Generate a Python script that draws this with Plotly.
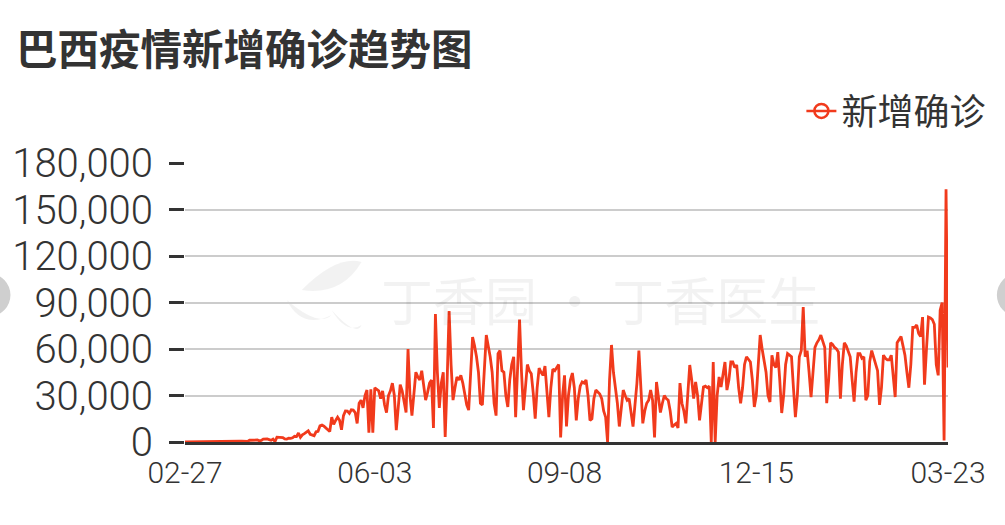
import pandas as pd
import plotly.graph_objects as go

# ---------------- data ----------------
start_date = "2020-02-27"
end_date = "2021-03-23"
dates = pd.date_range(start_date, end_date, freq="D")

new_cases = [
    0, 1, 0, 0, 0, 0, 1, 5, 5, 6,
    6, 5, 9, 18, 25, 21, 23, 79, 34, 57,
    137, 193, 283, 224, 418, 345, 310, 232, 482, 502,
    487, 352, 323, 1138, 1119, 1208, 1012, 1304, 770, 1031,
    1873, 2136, 1922, 1546, 1089, 1900, 300, 3100, 3000, 3300,
    2900, 2000, 1900, 2400, 2300, 2700, 3700, 3500, 5800, 3000,
    4600, 5400, 6300, 7200, 5000, 4600, 4100, 6600, 6900, 10500,
    11000, 10200, 9200, 7700, 6800, 16000, 11400, 13900, 16000, 14000,
    7900, 17000, 20000, 19900, 18500, 20800, 20600, 19000, 12000, 25000,
    27000, 22000, 30000, 33500, 6000, 34000, 6000, 35000, 34000, 33000,
    28000, 33000, 24000, 19000, 30000, 33000, 38000, 30000, 7700, 22000,
    37000, 33000, 25000, 19000, 60000, 30000, 17000, 32000, 45000, 42000,
    40000, 46000, 38000, 27000, 32000, 38000, 40000, 9000, 82600, 45000,
    22000, 38000, 45000, 3200, 40000, 84500, 50000, 27000, 35000, 42000,
    40000, 43000, 38000, 30000, 24000, 20600, 45000, 67700, 62000, 55000,
    45000, 25000, 24000, 45000, 69000, 62000, 55000, 45000, 25000, 17000,
    57000, 59000, 46000, 45000, 30000, 22600, 40000, 50000, 55000, 16000,
    50000, 79000, 45000, 20600, 35000, 50000, 46000, 44000, 31600, 15000,
    35000, 47700, 45000, 43000, 49000, 30000, 16000, 35000, 47000, 46000,
    47700, 50000, 3000, 30000, 43000, 10000, 30000, 40000, 44500, 35000,
    14000, 28000, 36000, 38700, 38000, 40000, 30000, 14000, 15000, 28000,
    33500, 32000, 31000, 28000, 20000, 16000, 0, 40000, 62600, 45000,
    35500, 25000, 10000, 20000, 33500, 30000, 27000, 28000, 18000, 10000,
    24000, 38000, 59000, 30000, 12000, 20000, 25000, 27000, 33500, 27000,
    3000, 38700, 30000, 19000, 25000, 30000, 28000, 27000, 20000, 9700,
    11000, 12000, 9000, 38000, 25000, 20000, 12000, 30000, 49700, 40000,
    28000, 38700, 30000, 14000, 25000, 35500, 36000, 35000, 36000, 0,
    51600, 0, 30000, 42000, 35500, 45000, 51600, 33500, 40000, 51600,
    51600, 48000, 49700, 35000, 25000, 35000, 50000, 55000, 53000, 51600,
    40000, 22600, 30000, 50000, 69000, 60000, 53000, 45000, 30000, 25800,
    56000, 50000, 48000, 58000, 40000, 18700, 30000, 50000, 57000, 56000,
    55000, 35000, 16000, 30000, 55000, 59000, 87000, 55000, 59000, 45000,
    29000, 45000, 61000, 64000, 66000, 69000, 65000, 61000, 25000, 40000,
    64000, 63000, 61000, 60000, 58000, 28000, 50000, 64000, 62000, 58000,
    55000, 40000, 26000, 45000, 57000, 57000, 54000, 55000, 27000, 30000,
    52000, 59000, 55000, 50000, 46000, 24000, 35000, 56000, 54000, 53000,
    53000, 56000, 42000, 29000, 64000, 66000, 68000, 62000, 56000, 45000,
    35000, 50000, 74000, 74000, 75500, 70000, 68000, 80600, 37000, 60000,
    80600, 80000, 79000, 76000, 50000, 43000, 85000, 90000, 1000, 163000,
    48000,
]

x_tick_dates = ["2020-02-27", "2020-06-03", "2020-09-08", "2020-12-15", "2021-03-23"]
x_tick_labels = ["02-27", "06-03", "09-08", "12-15", "03-23"]
y_ticks = [0, 30000, 60000, 90000, 120000, 150000, 180000]

series_name = "新增确诊"
title_text = "巴西疫情新增确诊趋势图"
watermark_text = "丁香园 · 丁香医生"

# ---------------- layout helpers (pixel -> paper) ----------------
W, H = 1005, 525
L, R, T, B = 183, 948, 163, 442


def px2x(px):
    return (px - L) / (R - L)


def py2y(py):
    return (B - py) / (B - T)


RED = "#f13a1c"
TXT = "#333333"
FONT = "Roboto, Noto Sans CJK SC, sans-serif"
CJK = "Noto Sans CJK SC, sans-serif"

fig = go.Figure()

fig.add_trace(go.Scatter(
    x=dates, y=new_cases, mode="lines", name=series_name,
    line=dict(color=RED, width=2.8), showlegend=False,
    hoverinfo="x+y",
))
# legend entry (line with hollow circle)
fig.add_trace(go.Scatter(
    x=[None], y=[None], mode="lines+markers", name=series_name,
    line=dict(color=RED, width=2.5),
    marker=dict(symbol="circle-open", size=14, color=RED, line=dict(width=2.5, color=RED)),
))

shapes = []
# carousel arrow half-circles at the page edges
for cx in (-12, 1017):
    shapes.append(dict(
        type="circle", xref="paper", yref="paper",
        x0=px2x(cx - 20), x1=px2x(cx + 20), y0=py2y(316), y1=py2y(274),
        fillcolor="#cfcfcf", line=dict(width=0), layer="above",
    ))
# faint watermark leaf logo
leaf_paths = [
    (300, 290, 335, 255, 360, 262),
    (285, 300, 300, 330, 330, 315),
    (330, 310, 345, 335, 360, 325),
]
for (ax, ay, bx, by, cx2, cy2) in leaf_paths:
    path = (f"M {px2x(ax)} {py2y(ay)} Q {px2x(bx)} {py2y(by)} {px2x(cx2)} {py2y(cy2)} "
            f"Q {px2x((ax + cx2) / 2 + 10)} {py2y((ay + cy2) / 2 + 20)} {px2x(ax)} {py2y(ay)} Z")
    shapes.append(dict(type="path", xref="paper", yref="paper", path=path,
                       fillcolor="rgba(0,0,0,0.05)", line=dict(width=0), layer="below"))

fig.update_layout(
    width=W, height=H,
    margin=dict(l=L, r=W - R, t=T, b=H - B, pad=0),
    paper_bgcolor="white", plot_bgcolor="white",
    title=dict(text=f"<b>{title_text}</b>", x=16 / W, xanchor="left",
               y=1 - 50 / H, yanchor="middle", xref="container", yref="container",
               font=dict(family=CJK, size=41.5, color=TXT)),
    legend=dict(x=px2x(801), y=py2y(111), xanchor="left", yanchor="middle",
                font=dict(family=CJK, size=36, color=TXT), bgcolor="rgba(0,0,0,0)",
                itemwidth=30),
    xaxis=dict(type="date", range=[dates[0], dates[-1]],
               tickvals=x_tick_dates, ticktext=x_tick_labels,
               showgrid=False, zeroline=False, showline=True,
               linecolor=TXT, linewidth=3, ticks="",
               tickfont=dict(family=FONT, size=30, color=TXT, weight=300),
               ticklabelstandoff=2),
    yaxis=dict(range=[0, 180000], tickvals=y_ticks, tickformat=",d",
               showgrid=True, gridcolor="#cccccc", gridwidth=2,
               zeroline=False, showline=False,
               ticks="outside", ticklen=15, tickwidth=3, tickcolor=TXT,
               tickfont=dict(family=FONT, size=40, color=TXT, weight=300),
               ticklabelstandoff=8),
    shapes=shapes,
    annotations=[dict(text=watermark_text, xref="paper", yref="paper",
                      x=px2x(600), y=py2y(298), showarrow=False,
                      font=dict(family=CJK, size=52, color="rgba(0,0,0,0.05)"))],
    showlegend=True,
)

fig.write_html(
    "out.html",
    config={"displayModeBar": False},
    post_script="document.body.style.margin='0px';document.body.style.overflow='hidden';",
)
